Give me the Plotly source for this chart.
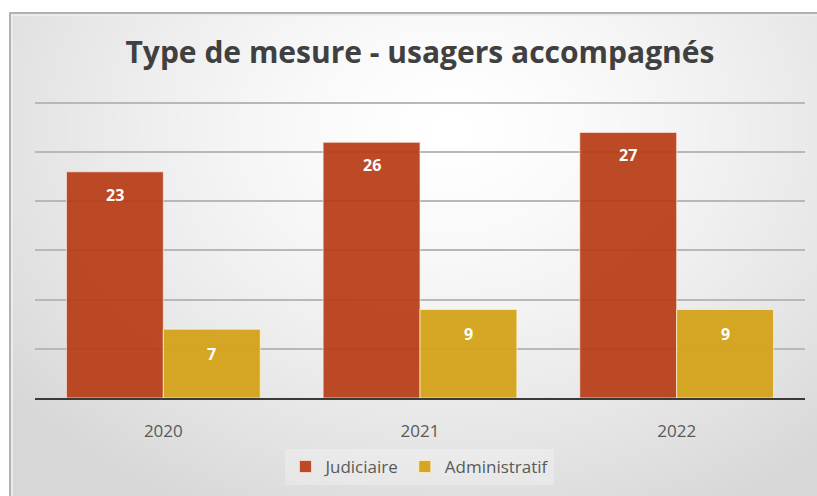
import base64, struct, zlib, math
import plotly.graph_objects as go

years = ["2020", "2021", "2022"]
judiciaire = [23, 26, 27]
administratif = [7, 9, 9]
series_names = ["Judiciaire", "Administratif"]
title_text = "Type de mesure - usagers accompagnés"
y_ticks = [0, 5, 10, 15, 20, 25, 30]

W, H = 817, 496
ML, MR, MT, MB = 35, 12, 100, 98
PW, PH = W - ML - MR, H - MT - MB

# ---- background gradient image (pure-python PNG) ----
def make_bg():
    rows = []
    cx, cy, rx, ry = 450.0, 130.0, 560.0, 430.0
    for y in range(H):
        row = bytearray([0])
        for x in range(W):
            if y < 12 or x < 9:
                v = 255
            elif y < 14 or x < 11:
                v = 178
            elif y < 16 or x < 13:
                v = 236
            else:
                d = math.sqrt(((x - cx) / rx) ** 2 + ((y - cy) / ry) ** 2)
                d = min(d, 1.0)
                v = int(round(255 - 40 * d ** 1.4))
            row += bytes((v, v, v))
        rows.append(bytes(row))
    raw = b"".join(rows)
    def chunk(t, data):
        c = struct.pack(">I", len(data)) + t + data
        return c + struct.pack(">I", zlib.crc32(t + data) & 0xffffffff)
    png = b"\x89PNG\r\n\x1a\n"
    png += chunk(b"IHDR", struct.pack(">IIBBBBB", W, H, 8, 2, 0, 0, 0))
    png += chunk(b"IDAT", zlib.compress(raw, 9))
    png += chunk(b"IEND", b"")
    return "data:image/png;base64," + base64.b64encode(png).decode()

red = "rgba(184,60,22,0.93)"
gold = "rgba(212,162,24,0.95)"

fig = go.Figure()
fig.add_trace(go.Bar(x=years, y=judiciaire, name=series_names[0],
                     marker=dict(color=red, line=dict(color="rgba(255,235,225,0.7)", width=1))))
fig.add_trace(go.Bar(x=years, y=administratif, name=series_names[1],
                     marker=dict(color=gold, line=dict(color="rgba(255,245,220,0.7)", width=1))))

label_font = dict(family="Open Sans", size=16, color="white", weight="bold")
annotations = []
for i, v in enumerate(judiciaire):
    annotations.append(dict(x=i, y=v, xref="x", yref="y", text=str(v), showarrow=False,
                            xshift=-48.5, yshift=-23, font=label_font))
for i, v in enumerate(administratif):
    annotations.append(dict(x=i, y=v, xref="x", yref="y", text=str(v), showarrow=False,
                            xshift=48.5, yshift=-25, font=label_font))

fig.update_layout(
    width=W, height=H,
    margin=dict(l=ML, r=MR, t=MT, b=MB, autoexpand=False),
    paper_bgcolor="white",
    plot_bgcolor="rgba(0,0,0,0)",
    barmode="group",
    bargap=0.245,
    bargroupgap=0,
    title=dict(text=title_text, x=0.514, xanchor="center", y=0.895, yanchor="middle",
               yref="container",
               font=dict(family="Open Sans", size=30, color="#404040", weight="bold")),
    xaxis=dict(type="category", range=[-0.5, 2.5], showgrid=False, showline=True,
               linecolor="#3a3a3a", linewidth=2,
               ticks="outside", ticklen=17, tickcolor="rgba(0,0,0,0)",
               tickfont=dict(family="Open Sans", size=17, color="#595959")),
    yaxis=dict(range=[0, 30.3], tickvals=y_ticks, showticklabels=False, showgrid=True,
               gridcolor="#B8B8B8", gridwidth=1.5, zeroline=False, showline=False, ticks=""),
    legend=dict(orientation="h", x=0.514, xanchor="center", xref="container",
                y=1 - 467 / 496, yanchor="middle", yref="container",
                bgcolor="rgba(255,255,255,0.25)",
                font=dict(family="Open Sans", size=17, color="#595959"),
                traceorder="normal"),
    annotations=annotations,
    images=[dict(source=make_bg(), xref="paper", yref="paper",
                 x=-ML / PW, y=1 + MT / PH, sizex=W / PW, sizey=H / PH,
                 xanchor="left", yanchor="top", sizing="stretch", layer="below")],
    showlegend=True,
)

fig.write_html("out.html", config={"displayModeBar": False},
               post_script="document.body.style.margin='0';document.body.style.overflow='hidden';")
